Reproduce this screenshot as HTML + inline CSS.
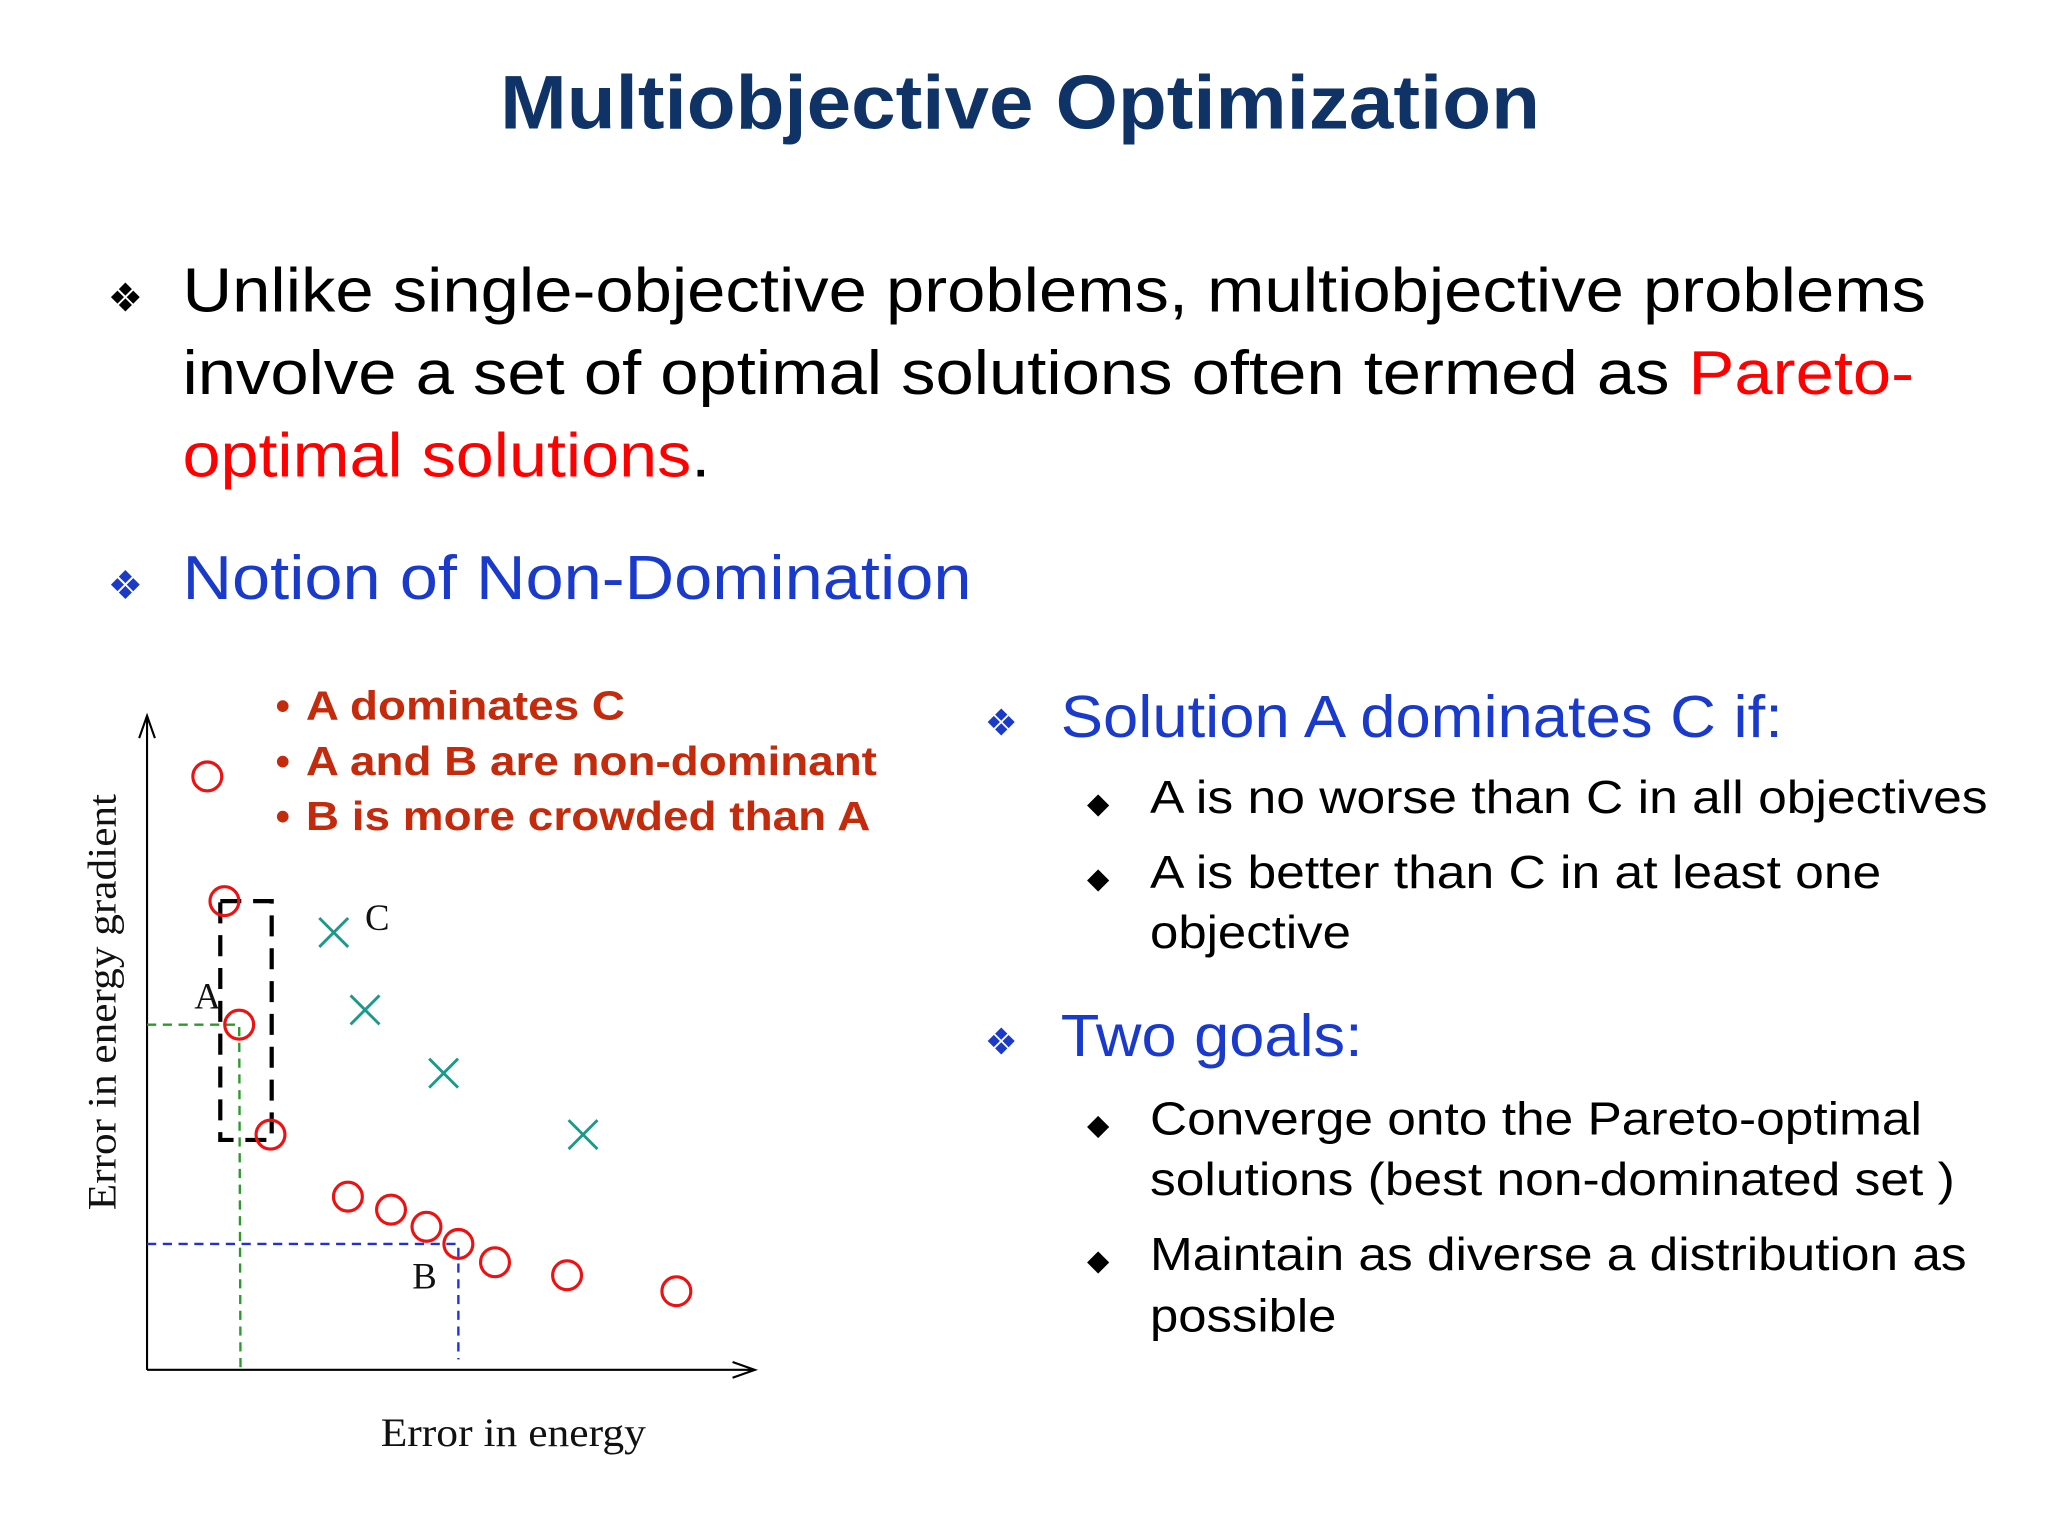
<!DOCTYPE html>
<html><head><meta charset="utf-8"><style>
html,body{margin:0;padding:0;background:#fff;}
svg{display:block;}
.s{font-family:"Liberation Sans",sans-serif;}
</style></head><body>
<svg id="slide" width="2048" height="1534" viewBox="0 0 1560 1168" preserveAspectRatio="none" xmlns="http://www.w3.org/2000/svg">
<rect width="1560" height="1168" fill="#fff"/>
<text class="s" x="381" y="98" textLength="792" lengthAdjust="spacingAndGlyphs" font-size="58" font-weight="bold" fill="#0f3366">Multiobjective Optimization</text>
<g class="s" font-size="47" fill="#000">
<text x="82" y="237" font-size="30">❖</text>
<text x="139" y="237" textLength="1328" lengthAdjust="spacingAndGlyphs">Unlike single-objective problems, multiobjective problems</text>
<text x="139" y="300" textLength="1319" lengthAdjust="spacingAndGlyphs">involve a set of optimal solutions often termed as <tspan fill="#ff0000">Pareto-</tspan></text>
<text x="139" y="363" textLength="402" lengthAdjust="spacingAndGlyphs"><tspan fill="#ff0000">optimal solutions</tspan>.</text>
</g>
<g class="s" font-size="47" fill="#1a3acc">
<text x="82" y="456" font-size="30">❖</text>
<text x="139" y="456" textLength="601" lengthAdjust="spacingAndGlyphs">Notion of Non-Domination</text>
</g>
<g class="s" font-size="31" font-weight="bold" fill="#c42a0c">
<text x="210" y="548">•</text><text x="233" y="548" textLength="243" lengthAdjust="spacingAndGlyphs">A dominates C</text>
<text x="210" y="590">•</text><text x="233" y="590" textLength="435" lengthAdjust="spacingAndGlyphs">A and B are non-dominant</text>
<text x="210" y="632">•</text><text x="233" y="632" textLength="430" lengthAdjust="spacingAndGlyphs">B is more crowded than A</text>
</g>
<g class="s">
<text x="750" y="560" font-size="28" fill="#1a3acc">❖</text>
<text x="808" y="561" font-size="45" fill="#1a3acc" textLength="550" lengthAdjust="spacingAndGlyphs">Solution A dominates C if:</text>
<text x="828" y="619" font-size="22">◆</text>
<text x="876" y="619" font-size="35" textLength="638" lengthAdjust="spacingAndGlyphs">A is no worse than C in all objectives</text>
<text x="828" y="676" font-size="22">◆</text>
<text x="876" y="676" font-size="35" textLength="557" lengthAdjust="spacingAndGlyphs">A is better than C in at least one</text>
<text x="876" y="722" font-size="35" textLength="153" lengthAdjust="spacingAndGlyphs">objective</text>
<text x="750" y="803" font-size="28" fill="#1a3acc">❖</text>
<text x="808" y="804" font-size="45" fill="#1a3acc" textLength="230" lengthAdjust="spacingAndGlyphs">Two goals:</text>
<text x="828" y="864" font-size="22">◆</text>
<text x="876" y="864" font-size="35" textLength="588" lengthAdjust="spacingAndGlyphs">Converge onto the Pareto-optimal</text>
<text x="876" y="910" font-size="35" textLength="613" lengthAdjust="spacingAndGlyphs">solutions (best non-dominated set )</text>
<text x="828" y="967" font-size="22">◆</text>
<text x="876" y="967" font-size="35" textLength="622" lengthAdjust="spacingAndGlyphs">Maintain as diverse a distribution as</text>
<text x="876" y="1014" font-size="35" textLength="142" lengthAdjust="spacingAndGlyphs">possible</text>
</g>
<g id="chart"></g>
</svg>
<script>
const circleX=[10.2,13.1,15.6,20.9,34,41.3,47.3,52.7,58.9,71.1,89.6];
const circleY=[100.4,79.3,58.4,39.8,29.3,27.1,24.2,21.3,18.2,16,13.3];
const crossX=[31.6,36.9,50.2,73.8];
const crossY=[74,60.9,50.2,39.8];
const pointA=[15.6,58.4];
const pointB=[52.7,21.3];
const boxX=[12.4,21.1];
const boxY=[79.3,38.9];
const NS='http://www.w3.org/2000/svg';
const X0=112,Y0=1043,K=4.5;
function sx(v){return X0+v*K;}
function sy(v){return Y0-v*K;}
const g=document.getElementById('chart');
function mk(tag,attrs,parent){const e=document.createElementNS(NS,tag);for(const k in attrs)e.setAttribute(k,attrs[k]);(parent||g).appendChild(e);return e;}
let ax=mk('path',{d:`M${X0} ${Y0} L${X0} 545 M106 562 L${X0} 545 L118 562 M${X0} ${Y0} L575 ${Y0} M558 1037 L575 ${Y0} L558 1049`,stroke:'#000','stroke-width':1.6,fill:'none'});


let gl=mk('path',{d:`M${X0} ${sy(pointA[1])} L${sx(pointA[0])} ${sy(pointA[1])} L${sx(pointA[0])+1} ${Y0}`,stroke:'#2a9a2a','stroke-width':1.8,'stroke-dasharray':'7 5',fill:'none'});


let bl=mk('path',{d:`M${X0} ${sy(pointB[1])} L${sx(pointB[0])} ${sy(pointB[1])} L${sx(pointB[0])} ${Y0-8}`,stroke:'#2030dd','stroke-width':1.8,'stroke-dasharray':'7 5',fill:'none'});


let bx=mk('rect',{x:sx(boxX[0]),y:sy(boxY[0]),width:sx(boxX[1])-sx(boxX[0]),height:sy(boxY[1])-sy(boxY[0]),stroke:'#000','stroke-width':3.2,'stroke-dasharray':'16 9',fill:'none'});


circleX.forEach((v,i)=>{const c=mk('circle',{cx:sx(v),cy:sy(circleY[i]),r:11,stroke:'#ee1111','stroke-width':2.4,fill:'none'});

});
crossX.forEach((v,i)=>{const x=sx(v),y=sy(crossY[i]),h=11;const p=mk('path',{d:`M${x-h} ${y-h} L${x+h} ${y+h} M${x-h} ${y+h} L${x+h} ${y-h}`,stroke:'#1a9a8a','stroke-width':2.2});

});
function lab(t,x,y,size,name){const e=mk('text',{x:x,y:y,'font-size':size,'font-family':'Liberation Serif, serif',fill:'#111'});e.textContent=t;

}
lab('A',148,768,28,'label-a');
lab('B',314,981,28,'label-b');
lab('C',278,708,28,'label-c');
const yt=mk('text',{x:88,y:763,'font-size':31,'font-family':'Liberation Serif, serif',fill:'#111','text-anchor':'middle',textLength:317,lengthAdjust:'spacingAndGlyphs',transform:'rotate(-90 88 763)'});yt.textContent='Error in energy gradient';


const xt=mk('text',{x:391,y:1101,'font-size':31,'font-family':'Liberation Serif, serif',fill:'#111','text-anchor':'middle',textLength:202,lengthAdjust:'spacingAndGlyphs'});xt.textContent='Error in energy';


</script>
</body></html>
